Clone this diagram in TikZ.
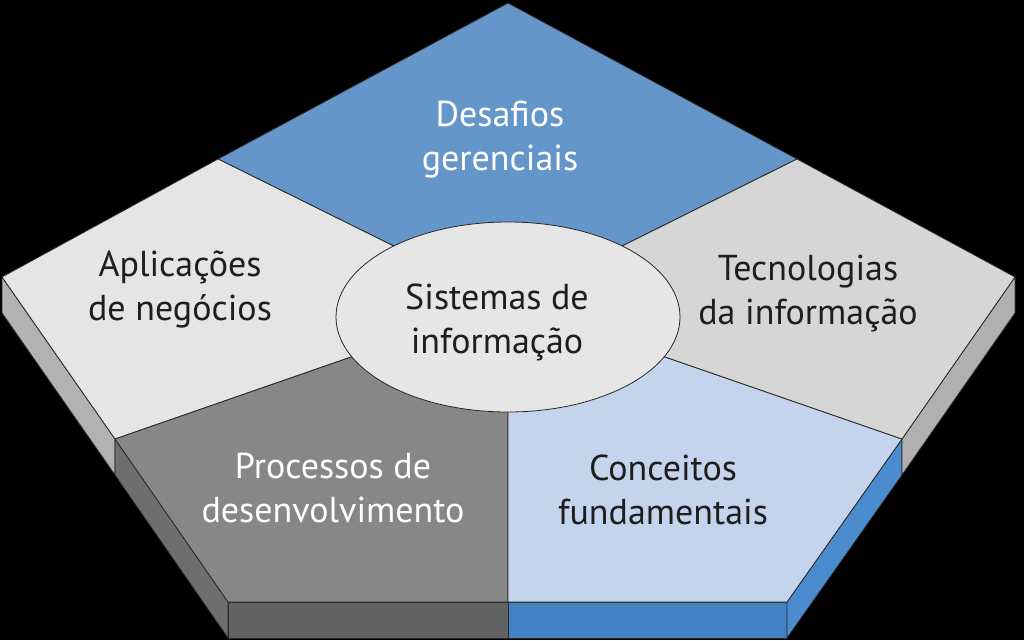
\documentclass[tikz,border=0pt]{standalone}
\usepackage{fontspec}
\setmainfont{PT Sans}
\usetikzlibrary{shapes.geometric}
\definecolor{edgec}{RGB}{40,40,40}
\definecolor{cBlue}{RGB}{100,150,201}
\definecolor{cApl}{RGB}{229,229,229}
\definecolor{cTec}{RGB}{214,214,214}
\definecolor{cProc}{RGB}{135,135,135}
\definecolor{cConc}{RGB}{196,212,236}
\definecolor{cCore}{RGB}{230,230,230}
\definecolor{sAplSide}{RGB}{178,178,178}
\definecolor{sProcSide}{RGB}{110,110,110}
\definecolor{sProcBot}{RGB}{98,98,98}
\definecolor{sConcBot}{RGB}{66,130,194}
\definecolor{sConcSide}{RGB}{74,140,205}
\definecolor{sTecSide}{RGB}{176,176,176}
\definecolor{darktext}{RGB}{30,30,30}
\begin{document}
\begin{tikzpicture}[x=1pt,y=-1pt,
  face/.style={draw=edgec, line width=0.8pt, line join=round},
  lbl/.style={align=center, font=\fontsize{36}{44}\selectfont, inner sep=0pt}]
\fill[black] (0,0) rectangle (1024,640);
\useasboundingbox (0,0) rectangle (1024,640);
% outer vertices of the top face
\coordinate (T) at (508,3);
\coordinate (L) at (2,277);
\coordinate (BL) at (228,602);
\coordinate (BR) at (787,602);
\coordinate (R) at (1015,277);
% points on the edges where dividers start
\coordinate (ULm) at (218,159);
\coordinate (URm) at (797,159);
\coordinate (LLm) at (115,439);
\coordinate (LRm) at (902,439);
\coordinate (Bm) at (508,602);
% points inside the central ellipse
\coordinate (C) at (508,317);
\coordinate (XUL) at (430,264);
\coordinate (XUR) at (586,264);
\coordinate (XLL) at (400,340);
\coordinate (XLR) at (616,340);
\coordinate (XB) at (508,380);
% lower points of the side faces
\coordinate (Ld) at (2,313);
\coordinate (LLmd) at (115,475);
\coordinate (BLd) at (228,638);
\coordinate (Bmd) at (508,638);
\coordinate (BRd) at (787,638);
\coordinate (LRmd) at (902,475);
\coordinate (Rd) at (1015,313);
% side faces
\filldraw[face, fill=sAplSide] (L) -- (LLm) -- (LLmd) -- (Ld) -- cycle;
\filldraw[face, fill=sProcSide] (LLm) -- (BL) -- (BLd) -- (LLmd) -- cycle;
\filldraw[face, fill=sProcBot] (BL) -- (Bm) -- (Bmd) -- (BLd) -- cycle;
\filldraw[face, fill=sConcBot] (Bm) -- (BR) -- (BRd) -- (Bmd) -- cycle;
\filldraw[face, fill=sConcSide] (BR) -- (LRm) -- (LRmd) -- (BRd) -- cycle;
\filldraw[face, fill=sTecSide] (LRm) -- (R) -- (Rd) -- (LRmd) -- cycle;
% top face regions
\filldraw[face, fill=cBlue] (T) -- (URm) -- (XUR) -- (C) -- (XUL) -- (ULm) -- cycle;
\filldraw[face, fill=cApl] (L) -- (ULm) -- (XUL) -- (C) -- (XLL) -- (LLm) -- cycle;
\filldraw[face, fill=cProc] (LLm) -- (XLL) -- (C) -- (XB) -- (Bm) -- (BL) -- cycle;
\filldraw[face, fill=cConc] (Bm) -- (XB) -- (C) -- (XLR) -- (LRm) -- (BR) -- cycle;
\filldraw[face, fill=cTec] (LRm) -- (XLR) -- (C) -- (XUR) -- (URm) -- (R) -- cycle;
% central ellipse
\node[ellipse, draw=edgec, line width=0.8pt, fill=cCore, minimum width=344pt, minimum height=190pt, inner sep=0pt] (core) at (C) {};
% labels
\node[lbl, text=white] (desafios) at (500,140) {Desafios\\gerenciais};
\node[lbl, text=darktext] (aplic) at (180,289) {Aplicações\\de negócios};
\node[lbl, text=darktext] (sist) at (497,322) {Sistemas de\\informação};
\node[lbl, text=darktext] (tec) at (808,293) {Tecnologias\\da informação};
\node[lbl, text=white] (proc) at (333,488) {Processos de\\desenvolvimento};
\node[lbl, text=darktext] (conc) at (663,490) {Conceitos\\fundamentais};
\end{tikzpicture}
\end{document}
